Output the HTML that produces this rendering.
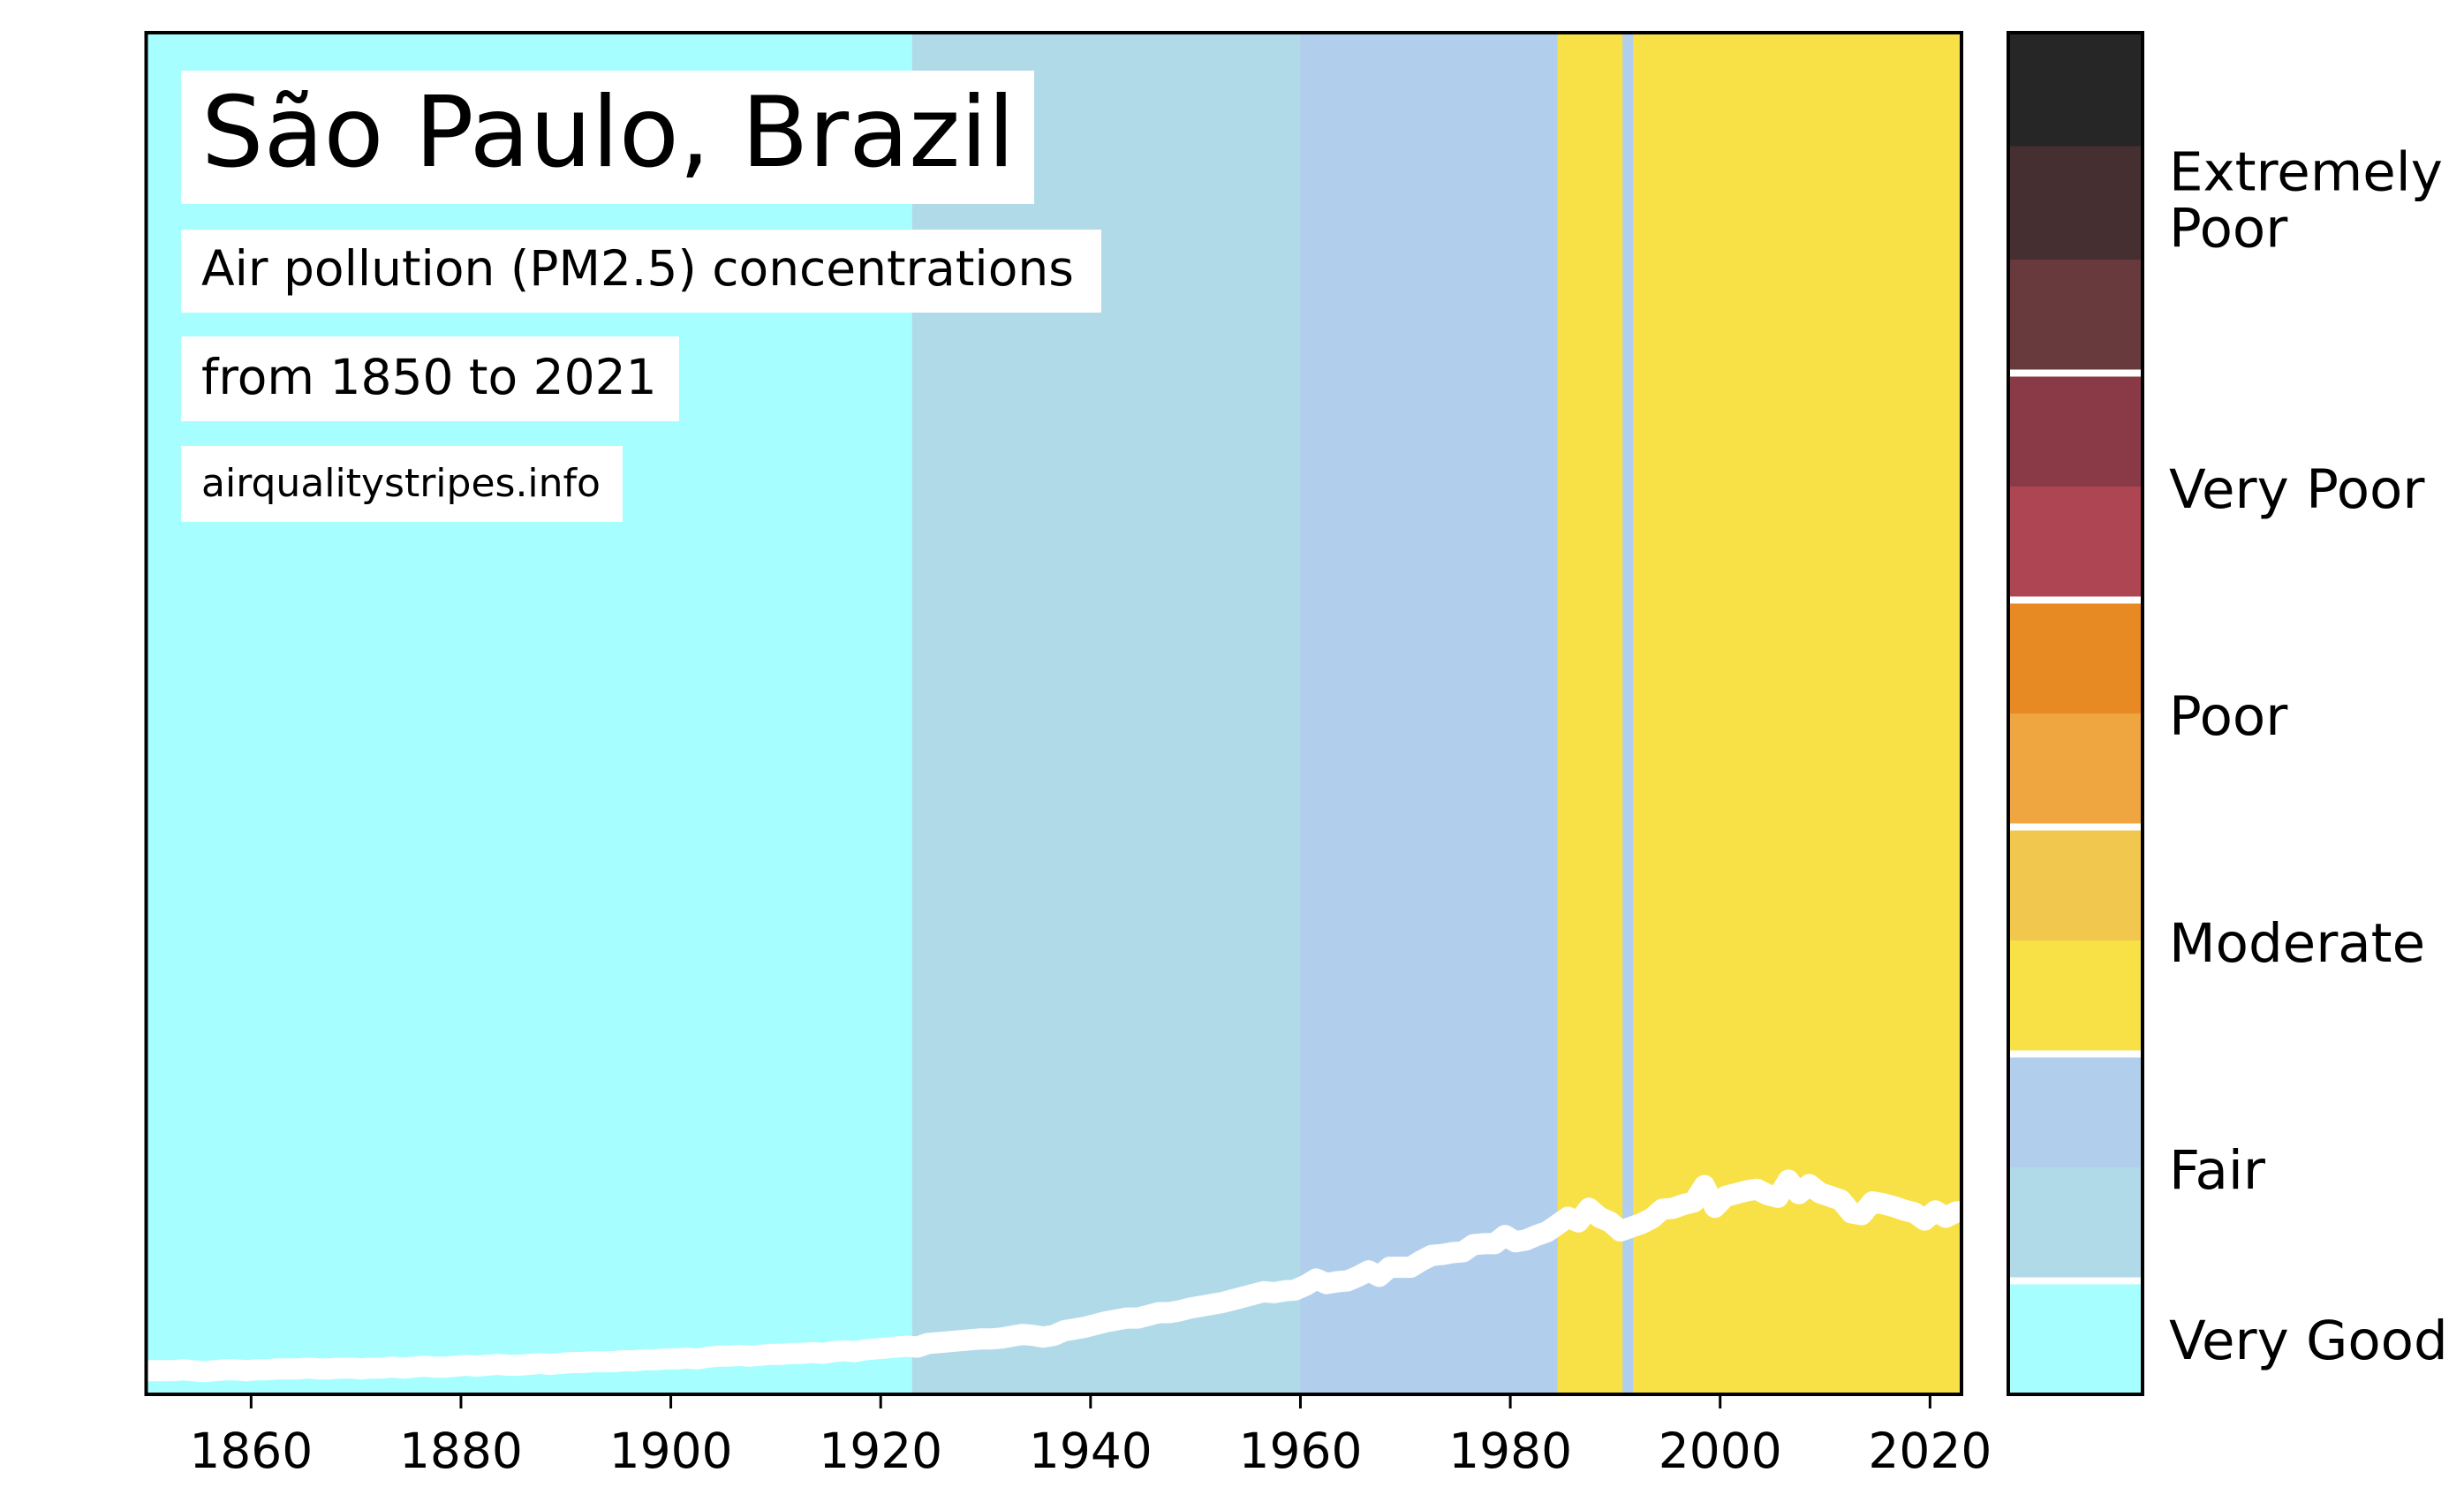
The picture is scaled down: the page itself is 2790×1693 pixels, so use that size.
<!DOCTYPE html>
<html><head><meta charset="utf-8"><style>
html,body{margin:0;padding:0;background:#fff;}
svg{display:block;font-family:"DejaVu Sans","Liberation Sans",sans-serif;}
</style></head><body>
<svg id="chart" width="2790" height="1693" viewBox="0 0 2790 1693" xmlns="http://www.w3.org/2000/svg">
<g id="stripes"></g>
<g id="line"></g>
<rect x="165.5" y="37" width="2055.5" height="1542" fill="none" stroke="#000" stroke-width="4"/>
<g id="xticks"></g>
<g>
<rect x="205" y="80" width="966" height="151" fill="#fff"/>
<text x="228" y="188" font-size="111" fill="#000">São Paulo, Brazil</text></g>
<g>
<rect x="205" y="260" width="1042" height="94" fill="#fff"/>
<text x="228" y="323" font-size="55" fill="#000">Air pollution (PM2.5) concentrations</text></g>
<g>
<rect x="205" y="381" width="564" height="96" fill="#fff"/>
<text x="228" y="446" font-size="55" fill="#000">from 1850 to 2021</text></g>
<g>
<rect x="205" y="505" width="500" height="86" fill="#fff"/>
<text x="228" y="562" font-size="44" fill="#000">airqualitystripes.info</text></g>
<g id="cbar"></g>
</svg>
<script>
const startYear = 1850;
const pmValues = [
2.6,2.6,2.7,2.6,2.5,2.6,2.7,2.7,2.6,2.7,
2.7,2.8,2.8,2.8,2.9,2.8,2.8,2.9,2.9,2.8,
2.9,2.9,3.0,2.9,3.0,3.1,3.0,3.0,3.1,3.2,
3.1,3.2,3.3,3.2,3.2,3.3,3.4,3.3,3.4,3.5,
3.5,3.6,3.6,3.6,3.7,3.7,3.8,3.8,3.9,3.9,
4.0,3.9,4.1,4.2,4.2,4.3,4.2,4.3,4.4,4.4,
4.5,4.5,4.6,4.5,4.7,4.8,4.7,4.9,5.0,5.1,
5.2,5.3,5.2,5.6,5.7,5.8,5.9,6.0,6.1,6.1,
6.2,6.4,6.6,6.5,6.3,6.5,7.0,7.2,7.4,7.7,
8.0,8.2,8.4,8.4,8.7,9.0,9.0,9.2,9.5,9.7,
9.9,10.1,10.4,10.7,11.0,11.3,11.2,11.4,11.5,12.0,
12.7,12.2,12.4,12.5,13.0,13.6,13.0,14.0,14.0,14.0,
14.7,15.3,15.4,15.6,15.7,16.5,16.6,16.6,17.5,16.8,
17.0,17.5,17.9,18.7,19.5,19.0,20.5,19.5,19.0,18.0,
18.4,18.8,19.4,20.4,20.5,20.9,21.2,23.0,20.6,21.8,
22.1,22.4,22.6,22.0,21.7,23.6,22.1,23.1,22.2,21.8,
21.4,20.0,19.8,21.2,21.0,20.7,20.3,20.0,19.2,20.2,
19.5,20.1];
const stripeStart = [1850,1923,1960,1984.5,1990.7,1991.7];
const stripeEnd   = [1923,1960,1984.5,1990.7,1991.7,2023];
const stripeColor = ['#a6feff','#b1dae8','#b1cfec','#f8e047','#b1cfec','#f8e047'];
const tickYears = [1860,1880,1900,1920,1940,1960,1980,2000,2020];
const cbarColors = ['#262626','#452f30','#683a3d','#8a3a47','#ae4553','#e88a24','#f0a640','#f2c74d','#f8e047','#b1cfec','#b1dae8','#a6feff'];
const cbarBreaks = [3,5,7,9,11];
const cbarLabels = ['Extremely\nPoor','Very Poor','Poor','Moderate','Fair','Very Good'];
const cbarLabelPos = [1.45,4,6,8,10,11.5];

const NS='http://www.w3.org/2000/svg';
const X0=165.5,X1=2221,Y0=37,Y1=1579,XMIN=1850,XMAX=2023,YMAX=150;
const xs=v=>X0+(v-XMIN)/(XMAX-XMIN)*(X1-X0);
const ys=v=>Y1-v/YMAX*(Y1-Y0);
function mk(tag,attrs,parent){const e=document.createElementNS(NS,tag);for(const k in attrs)e.setAttribute(k,attrs[k]);parent.appendChild(e);return e;}

const sg=document.getElementById('stripes');
stripeStart.forEach((s,i)=>{
  const r=mk('rect',{x:xs(s),y:Y0,width:xs(stripeEnd[i])-xs(s)+0.5,height:Y1-Y0,fill:stripeColor[i]},sg);
  
  
});

const lg=document.getElementById('line');
const pts=pmValues.map((v,i)=>xs(startYear+i+1.5).toFixed(1)+','+ys(v).toFixed(1)).join(' ');
const pl=mk('polyline',{points:X0+','+ys(pmValues[0]).toFixed(1)+' '+pts+' '+X1+','+ys(pmValues[pmValues.length-1]).toFixed(1),fill:'none',stroke:'#fff','stroke-width':24,'stroke-linejoin':'round'},lg);



const xg=document.getElementById('xticks');
tickYears.forEach(t=>{
  const x=xs(t);
  const l=mk('line',{x1:x,x2:x,y1:Y1,y2:Y1+16,stroke:'#000','stroke-width':3},xg);
  
  
  const tx=mk('text',{x:x,y:Y1+83,'font-size':55,'text-anchor':'middle',fill:'#000'},xg);
  tx.textContent=t;
  
  
});

const cg=document.getElementById('cbar');
const CX0=2274,CX1=2426,CY0=37,CY1=1579,seg=(CY1-CY0)/cbarColors.length;
cbarColors.forEach((c,i)=>{
  const r=mk('rect',{x:CX0,y:CY0+i*seg,width:CX1-CX0,height:seg+0.5,fill:c},cg);
  
  
});
cbarBreaks.forEach(b=>{
  const r=mk('rect',{x:CX0,y:CY0+b*seg-4,width:CX1-CX0,height:8,fill:'#fff'},cg);
  
  
});
const fr=mk('rect',{x:CX0,y:CY0,width:CX1-CX0,height:CY1-CY0,fill:'none',stroke:'#000','stroke-width':4},cg);


cbarLabels.forEach((lab,i)=>{
  const lines=lab.split('\n');
  const cy=CY0+cbarLabelPos[i]*seg;
  const t=mk('text',{x:2456,'font-size':61,fill:'#000'},cg);
  
  
  lines.forEach((ln,j)=>{
    const sp=mk('tspan',{x:2456,y:cy+24+(j-(lines.length-1)/2)*64},t);
    sp.textContent=ln;
  });
});
</script>
</body></html>
